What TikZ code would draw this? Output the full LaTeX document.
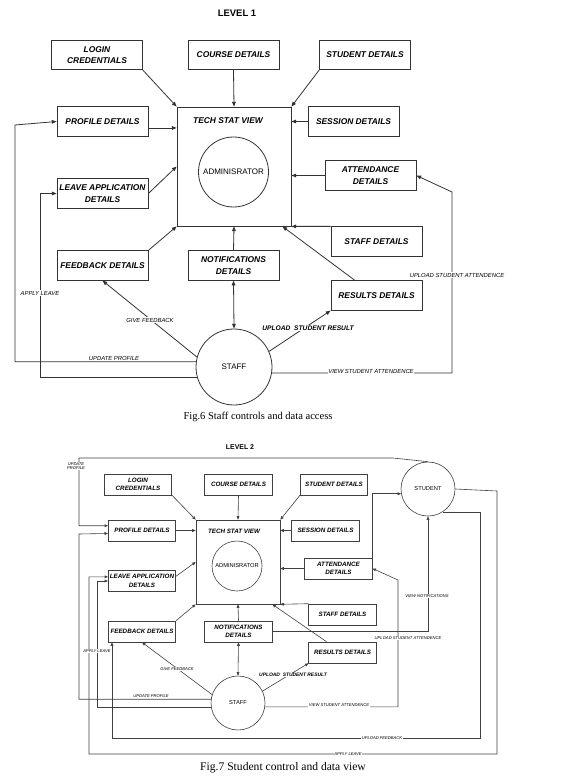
\documentclass[tikz,border=0pt]{standalone}
\usepackage{fontspec}
\setmainfont{Liberation Sans}
\newfontfamily\timesfont{Liberation Serif}
\usetikzlibrary{arrows.meta,calc}

\tikzset{every picture/.style={line width=0.75pt}}
\tikzset{
  boxA/.style={draw=black!80, line width=0.6pt, rectangle, minimum width=68.25pt, minimum height=22.1pt, inner sep=0pt, align=center, font=\fontsize{6.3}{8.6}\selectfont\bfseries\itshape},
  boxB/.style={draw=black!75, line width=0.45pt, rectangle, minimum width=50.6pt, minimum height=15.75pt, inner sep=0pt, align=center, font=\fontsize{4.7}{6.3}\selectfont\bfseries\itshape},
  roundA/.style={draw=black!80, line width=0.6pt, circle, inner sep=0pt, font=\fontsize{6}{7}\selectfont},
  roundB/.style={draw=black!75, line width=0.45pt, circle, inner sep=0pt, font=\fontsize{4.3}{5}\selectfont},
  lblA/.style={fill=white, inner sep=0.6pt, font=\fontsize{4.4}{5}\selectfont\itshape},
  lblB/.style={fill=white, inner sep=0.4pt, align=center, font=\fontsize{3.1}{3.6}\selectfont\itshape},
  arrA/.style={-{Triangle[length=3.6pt,width=2.8pt]}, line width=0.6pt, draw=black!80},
  arrB/.style={-{Triangle[length=2.6pt,width=2.1pt]}, line width=0.45pt, draw=black!75},
}

\begin{document}
\begin{tikzpicture}[x=0.75pt,y=0.75pt,yscale=-1,xscale=1]
\useasboundingbox (0,0) rectangle (574,781);

%%%%%%%%%% LEVEL 1 %%%%%%%%%%
% Text Node
\node[font=\fontsize{7.1}{8}\selectfont\bfseries] (lvl1) at (237,13) {LEVEL 1};

%Shape: Rectangle
\node[draw=black!80, line width=0.6pt, minimum width=85.5pt, minimum height=89.25pt] (tsv1) at (234,166.5) {};
\node[font=\fontsize{6.3}{8}\selectfont\bfseries\itshape] (tsvt1) at (228,121) {TECH STAT VIEW};
%Shape: Circle
\node[roundA, minimum size=52.5pt] (admin1) at (233.5,172) {ADMINISRATOR};

\node[boxA] (login1) at (97,55) {LOGIN\\CREDENTIALS};
\node[boxA] (course1) at (233.5,55) {COURSE DETAILS};
\node[boxA] (student1) at (365,55) {STUDENT DETAILS};
\node[boxA] (profile1) at (102.5,121.5) {PROFILE DETAILS};
\node[boxA] (session1) at (353.5,121.5) {SESSION DETAILS};
\node[boxA] (attend1) at (370.5,175.5) {ATTENDANCE\\DETAILS};
\node[boxA] (leave1) at (102.5,193.5) {LEAVE APPLICATION\\DETAILS};
\node[boxA] (staffd1) at (376.5,241.5) {STAFF DETAILS};
\node[boxA] (feedback1) at (102.5,265.5) {FEEDBACK DETAILS};
\node[boxA] (notif1) at (233.5,265.5) {NOTIFICATIONS\\DETAILS};
\node[boxA] (results1) at (376.5,295.5) {RESULTS DETAILS};
%Shape: Circle
\node[roundA, minimum size=57pt] (staff1) at (234,367) {STAFF};

\coordinate (upA) at (15,125);
\coordinate (alA) at (40,193.5);
\coordinate (vaA) at (452,192);

%Straight Lines
\draw[arrA] (login1.south east) -- (tsv1.north west);
\draw[arrA] (course1.south) -- (tsv1.north);
\draw[arrA] (student1.south west) -- (tsv1.north east);
\draw[arrA] (profile1.-8) -- (tsv1.west |- profile1.-8);
\draw[arrA] (session1.west) -- (tsv1.east |- session1.west);
\draw[arrA] (leave1.east) -- (tsv1.west);
\draw[arrA] (attend1.west) -- (tsv1.east |- attend1.west);
\draw[arrA] (feedback1.north east) -- (tsv1.south west);
\draw[arrA] (notif1.north) -- (tsv1.south);
\draw[arrA] (staffd1.north west) -- (tsv1.south east);
\draw[arrA] (results1.145) -- ($(tsv1.south east)+(-9,0)$);
\draw[arrA, {Triangle[length=3.6pt,width=2.8pt]}-{Triangle[length=3.6pt,width=2.8pt]}] (notif1.south) -- (staff1.north);
\draw[arrA] (staff1.165) -- (feedback1.south);
\draw[arrA] (staff1.24) -- (results1.south west);
\draw[arrA] (staff1.172) -| (upA) -- (profile1.west);
\draw[arrA] (staff1.195) -| (alA) -- (leave1.west);
\draw[arrA] (staff1.-9) -| (vaA) -- (attend1.east);

% Text Node
\node[lblA] (gfb1) at (150,320) {GIVE FEEDBACK};
\node[lblA, font=\fontsize{5}{6}\selectfont\bfseries\itshape] (usr1) at (308,328) {UPLOAD\ \ STUDENT RESULT};
\node[lblA, fill=none] (upr1) at (114,358.5) {UPDATE PROFILE};
\node[lblA] (apl1) at (40,293) {APPLY LEAVE};
\node[lblA] (vsa1) at (371,371.5) {VIEW STUDENT ATTENDENCE};
\node[lblA] (usa1) at (457,275) {UPLOAD STUDENT ATTENDENCE};

\node[font=\timesfont\fontsize{7.9}{9}\selectfont] (cap1) at (258,417) {Fig.6 Staff controls and data access};

%%%%%%%%%% LEVEL 2 %%%%%%%%%%
% Text Node
\node[font=\fontsize{5.2}{6}\selectfont\bfseries] (lvl2) at (240,447) {LEVEL 2};

%Shape: Rectangle
\node[draw=black!75, line width=0.45pt, minimum width=63pt, minimum height=63pt] (tsv2) at (238,562) {};
\node[font=\fontsize{4.7}{6}\selectfont\bfseries\itshape] (tsvt2) at (234,531) {TECH STAT VIEW};
%Shape: Circle
\node[roundB, minimum size=37.5pt] (admin2) at (237,566) {ADMINISRATOR};

\node[boxB] (login2) at (138,484.5) {LOGIN\\CREDENTIALS};
\node[boxB] (course2) at (238.5,484.5) {COURSE DETAILS};
\node[boxB] (student2) at (334,484.5) {STUDENT DETAILS};
\node[boxB] (profile2) at (142,530.5) {PROFILE DETAILS};
\node[boxB] (session2) at (325.5,530.5) {SESSION DETAILS};
\node[boxB] (attend2) at (338.5,568.5) {ATTENDANCE\\DETAILS};
\node[boxB] (leave2) at (142,581) {LEAVE APPLICATION\\DETAILS};
\node[boxB] (staffd2) at (342.5,614.5) {STAFF DETAILS};
\node[boxB] (feedback2) at (142,631.5) {FEEDBACK DETAILS};
\node[boxB] (notif2) at (238.5,631.5) {NOTIFICATIONS\\DETAILS};
\node[boxB] (results2) at (342.5,652.5) {RESULTS DETAILS};
%Shape: Circle
\node[roundB, minimum size=40.5pt] (staff2) at (238,703) {STAFF};
\node[roundB, minimum size=40.5pt] (studentC) at (428,489) {STUDENT};

\coordinate (usA) at (393,458);
\coordinate (usB) at (79,458);
\coordinate (upB) at (79,534);
\coordinate (alB) at (97,581);
\coordinate (vaB) at (398,580);
\coordinate (saA) at (497,491);
\coordinate (saB) at (89,754);
\coordinate (ufA) at (480,738);
\coordinate (fbpt) at ($(feedback2.south west)+(4,0)$);

%Straight Lines
\draw[arrB] (login2.south east) -- (tsv2.north west);
\draw[arrB] (course2.south) -- (tsv2.north);
\draw[arrB] (student2.south west) -- (tsv2.north east);
\draw[arrB] (profile2.east) -- (tsv2.west |- profile2.east);
\draw[arrB] (session2.west) -- (tsv2.east |- session2.west);
\draw[arrB] (leave2.8) -- (tsv2.west);
\draw[arrB] (attend2.west) -- (tsv2.east |- attend2.west);
\draw[arrB] (feedback2.north east) -- (tsv2.south west);
\draw[arrB] (notif2.north) -- (tsv2.south);
\draw[arrB] (staffd2.north west) -- (tsv2.south east);
\draw[arrB] (results2.146) -- ($(tsv2.south east)+(-8,0)$);
\draw[arrB, {Triangle[length=2.6pt,width=2.1pt]}-{Triangle[length=2.6pt,width=2.1pt]}] (notif2.south) -- (staff2.north);
\draw[arrB] (staff2.162) -- (feedback2.south);
\draw[arrB] (staff2.26) -- (results2.south west);
\draw[arrB] (staff2.172) -| (upB) -- (profile2.185);
\draw[arrB] (staff2.190) -| (alB) -- (leave2.west);
\draw[arrB] (staff2.-8) -| (vaB) -- (attend2.east);
\draw[arrB] (notif2.east) -| (studentC.south);
\draw[arrB] (attend2.north east) |- (studentC.190);
\draw[arrB] (studentC.north) -- (usA) -- (usB) |- (profile2.172);
\draw[arrB] (studentC.east) -- (saA) |- (saB) |- (leave2.173);
\draw[arrB] (studentC.-57) -| (ufA) -| (fbpt);

% Text Node
\node[lblB] (upr2a) at (76,466) {UPDATE\\PROFILE};
\node[lblB] (gfb2) at (177,669) {GIVE FEEDBACK};
\node[lblB, font=\fontsize{3.7}{4.4}\selectfont\bfseries\itshape] (usr2) at (293,675) {UPLOAD\ \ STUDENT RESULT};
\node[lblB, fill=none] (upr2) at (151,696.5) {UPDATE PROFILE};
\node[lblB] (apl2) at (97,651) {APPLY LEAVE};
\node[lblB] (vsa2) at (339,705.5) {VIEW STUDENT ATTENDENCE};
\node[lblB] (usa2) at (408,638) {UPLOAD STUDENT ATTENDENCE};
\node[lblB] (vnt2) at (427,596) {VIEW NOTIFICATIONS};
\node[lblB] (ufb2) at (382,738) {UPLOAD FEEDBACK};
\node[lblB] (apl2b) at (348,754) {APPLY LEAVE};

\node[font=\timesfont\fontsize{8.7}{10}\selectfont] (cap2) at (283,768) {Fig.7 Student control and data view};

\end{tikzpicture}
\end{document}
